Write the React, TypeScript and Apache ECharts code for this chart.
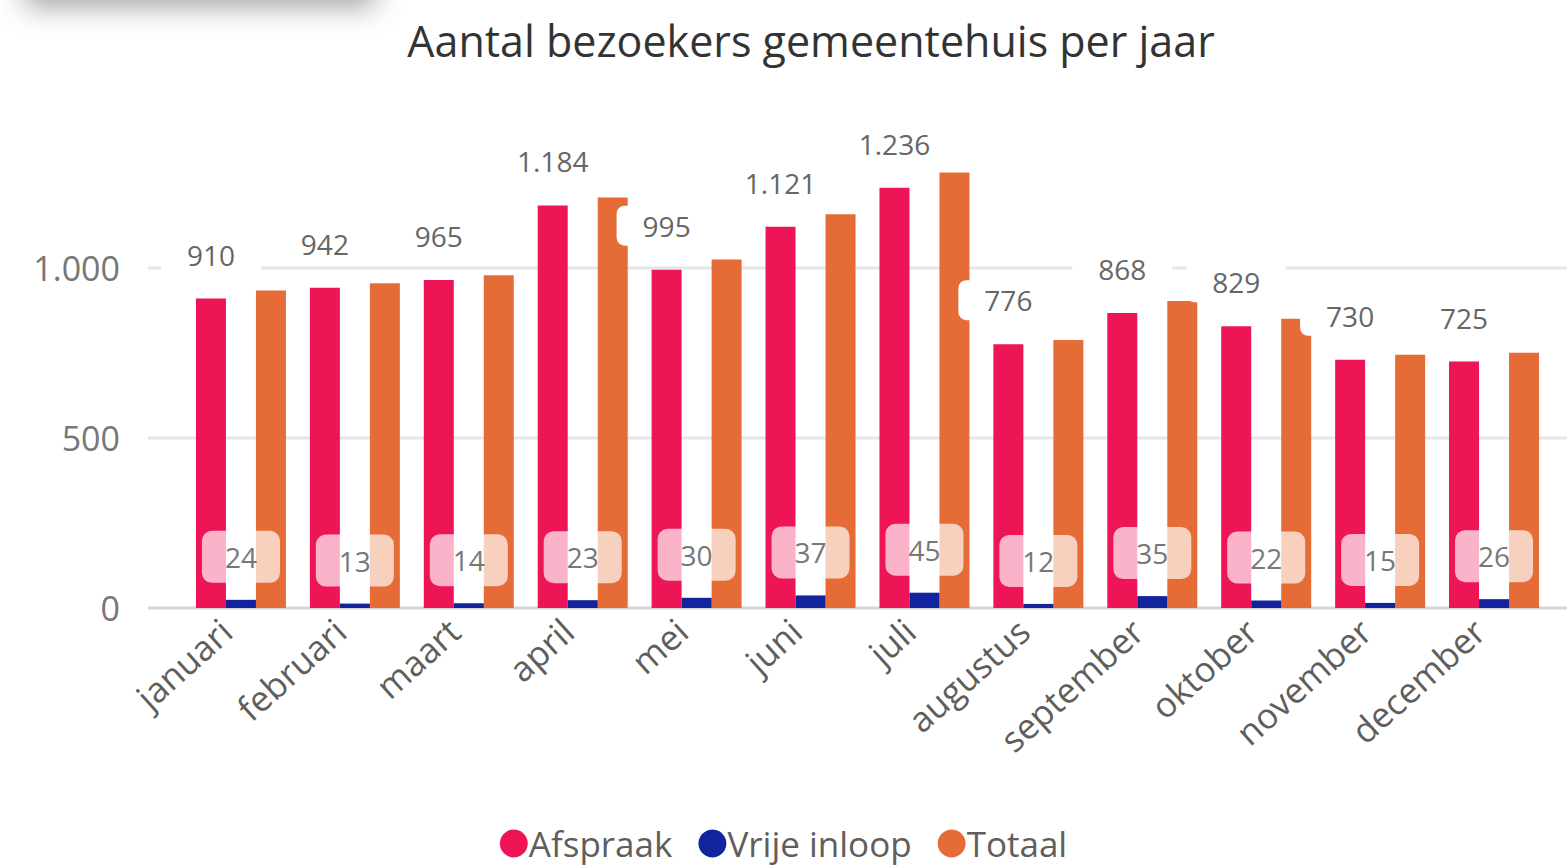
import React, { useEffect, useRef } from "react";
import * as echarts from "echarts";

const title = "Aantal bezoekers gemeentehuis per jaar";
const months = ["januari", "februari", "maart", "april", "mei", "juni", "juli", "augustus", "september", "oktober", "november", "december"];
const afspraak = [910, 942, 965, 1184, 995, 1121, 1236, 776, 868, 829, 730, 725];
const vrijeInloop = [24, 13, 14, 23, 30, 37, 45, 12, 35, 22, 15, 26];
const totaal = [934, 955, 979, 1207, 1025, 1158, 1281, 788, 903, 851, 745, 751];
const seriesNames = ["Afspraak", "Vrije inloop", "Totaal"];
const yTicks = [0, 500, 1000];
const colors = ["#EE1557", "#12239E", "#E66C37"];

const FONT = "'Open Sans', 'Noto Sans', sans-serif";
const fmt = (v: number) => v.toLocaleString("de-DE");

export default function App() {
  const ref = useRef<HTMLDivElement>(null);
  useEffect(() => {
    document.body.style.margin = "0";
    const chart = echarts.init(ref.current!, null, { renderer: "svg" });
    chart.setOption({
      animation: false,
      backgroundColor: "#fff",
      color: colors,
      title: {
        text: title,
        left: 806,
        textAlign: "center",
        top: 14,
        textStyle: { fontFamily: FONT, fontSize: 43, fontWeight: "normal", color: "#333" },
      },
      legend: {
        bottom: 0,
        left: "center",
        icon: "circle",
        itemWidth: 28,
        itemHeight: 28,
        itemGap: 26,
        textStyle: { fontFamily: FONT, fontSize: 35, color: "#605E5C", padding: [0, 0, 0, -4] },
        data: seriesNames,
      },
      grid: { left: 184, right: 16, top: 166, bottom: 258 },
      xAxis: {
        type: "category",
        data: months,
        axisTick: { show: false },
        axisLine: { show: false },
        axisLabel: {
          rotate: 42,
          interval: 0,
          margin: 4,
          padding: [0, 20, 0, 0],
          fontFamily: FONT,
          fontSize: 35,
          color: "#605E5C",
        },
      },
      yAxis: {
        type: "value",
        min: 0,
        max: 1300,
        interval: 500,
        axisLine: { show: false },
        axisTick: { show: false },
        splitLine: { show: false },
        axisLabel: {
          margin: 64,
          fontFamily: FONT,
          fontSize: 34,
          color: "#777",
          showMaxLabel: false,
          formatter: (v: number) => (v % 500 === 0 ? fmt(v) : ""),
        },
      },
      series: [
        {
          name: seriesNames[0],
          type: "bar",
          data: afspraak,
          barWidth: 30,
          barGap: "0%",
          label: {
            show: true,
            position: "top",
            distance: 24,
            formatter: (p: any) => fmt(p.value),
            fontFamily: FONT,
            fontSize: 28,
            color: "#666",
            backgroundColor: "#fff",
            padding: [6, 26],
            borderRadius: 8,
          },
        },
        {
          name: seriesNames[1],
          type: "bar",
          data: vrijeInloop,
          barWidth: 30,
          barGap: "0%",
          z: 3,
          label: {
            show: true,
            position: "top",
            distance: 17,
            formatter: (p: any) => fmt(p.value),
            fontFamily: FONT,
            fontSize: 28,
            color: "#777",
            backgroundColor: "rgba(255,255,255,0.68)",
            padding: [12, 23],
            borderRadius: 10,
          },
        },
        {
          name: seriesNames[2],
          type: "bar",
          data: totaal,
          barWidth: 30,
          barGap: "0%",
          z: 1,
        },
      ],
    });
    const lines: any[] = yTicks.map((t) => {
      const y = Math.round(chart.convertToPixel({ yAxisIndex: 0 }, t) as number);
      return {
        type: "line",
        z: -1,
        shape: { x1: 148, y1: y, x2: 1567, y2: y },
        style: { stroke: t === 0 ? "#d6d6d6" : "#e6e6e6", lineWidth: 3 },
      };
    });
    chart.setOption({
      graphic: [
        {
          type: "rect",
          shape: { x: 25, y: -40, width: 350, height: 40 },
          style: { fill: "#fff", shadowBlur: 30, shadowColor: "rgba(0,0,0,0.4)", shadowOffsetY: 5 },
        },
        ...lines,
      ],
    });
    return () => chart.dispose();
  }, []);
  return <div ref={ref} style={{ width: 1567, height: 866 }} />;
}
